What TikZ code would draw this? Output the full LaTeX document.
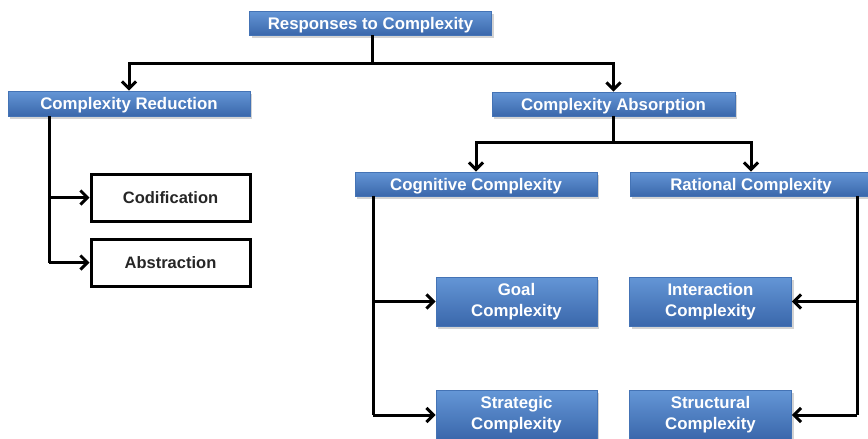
\documentclass[tikz,border=0pt]{standalone}
\usepackage{fontspec}
\setmainfont{Liberation Sans}
\usetikzlibrary{arrows.meta,shadows}
\definecolor{boxtop}{HTML}{6496D6}
\definecolor{boxbot}{HTML}{3A67AB}
\definecolor{boxedge}{HTML}{4473B5}
\begin{document}
\begin{tikzpicture}[x=1pt,y=-1pt,
  bluebox/.style={draw=boxedge, line width=0.8pt, top color=boxtop, bottom color=boxbot,
    text=white, font=\fontsize{16.8}{21}\selectfont\bfseries, align=center,
    inner sep=0pt, drop shadow={shadow xshift=2pt, shadow yshift=-2.5pt, opacity=0.35}},
  oneline/.style={text height=12pt, text depth=0pt},
  whitebox/.style={draw=black, line width=3pt, fill=white, text=black!85,
    font=\fontsize{16.5}{20}\selectfont\bfseries, inner sep=0pt,
    text height=12pt, text depth=0pt,
    minimum width=159pt, minimum height=47pt},
  link/.style={line width=3pt, line join=miter},
  arr/.style={link, -{Straight Barb[length=7pt,width=14pt,line width=3pt]}}]
\useasboundingbox (0,0) rectangle (868,439);
\clip (0,0) rectangle (868,439);

% single-line headers
\node[bluebox, oneline, minimum width=242pt, minimum height=24pt] (top) at (370.5,23) {Responses to Complexity};
\node[bluebox, oneline, minimum width=242pt, minimum height=25pt] (red) at (129,103.5) {Complexity Reduction};
\node[bluebox, oneline, minimum width=243pt, minimum height=24pt] (abs) at (613.5,104) {Complexity Absorption};
\node[bluebox, oneline, minimum width=242pt, minimum height=24pt] (cog) at (476,184) {Cognitive Complexity};
\node[bluebox, oneline, minimum width=242pt, minimum height=24pt] (rat) at (751,184) {Rational Complexity};

% reduction outcomes
\node[whitebox] (cod) at (170.5,197.5) {Codification};
\node[whitebox] (abst) at (170.5,262.5) {Abstraction};

% absorption outcomes (two-line labels)
\node[bluebox, minimum width=161pt, minimum height=49pt] (goal) at (516.5,301.5) {Goal\\Complexity};
\node[bluebox, minimum width=161pt, minimum height=49pt] (strat) at (516.5,415) {Strategic\\Complexity};
\node[bluebox, minimum width=162pt, minimum height=49pt] (inter) at (710.5,301.5) {Interaction\\Complexity};
\node[bluebox, minimum width=162pt, minimum height=49pt] (struc) at (710.5,415) {Structural\\Complexity};

% junction points
\coordinate (j0) at (372,63);
\coordinate (j1) at (613.5,142);
\coordinate (lr) at (49,0);
\coordinate (lc) at (373,0);
\coordinate (rc) at (857,0);

% connectors
\draw[link] (top.south -| j0) -- (j0);
\draw[arr] (j0) -| (red.north);
\draw[arr] (j0) -| (abs.north);

\draw[link] (abs.south) -- (j1);
\draw[arr] (j1) -| (cog.north);
\draw[arr] (j1) -| (rat.north);

\draw[link] (red.south -| lr) -- (abst.west -| lr);
\draw[arr] (cod.west -| lr) -- (cod.west);
\draw[arr] (abst.west -| lr) -- (abst.west);

\draw[link] (cog.south -| lc) -- (strat.west -| lc);
\draw[arr] (goal.west -| lc) -- (goal.west);
\draw[arr] (strat.west -| lc) -- (strat.west);

\draw[link] (rat.south -| rc) -- (struc.east -| rc);
\draw[arr] (inter.east -| rc) -- (inter.east);
\draw[arr] (struc.east -| rc) -- (struc.east);
\end{tikzpicture}
\end{document}
